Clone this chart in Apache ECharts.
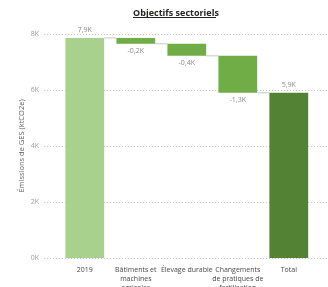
<!DOCTYPE html>
<html>
<head>
<meta charset="utf-8">
<title>Objectifs sectoriels</title>
<script src="https://cdn.jsdelivr.net/npm/echarts@6/dist/echarts.min.js"></script>
<style>
    html, body { margin: 0; padding: 0; background: #ffffff; }
    #chart { width: 328px; height: 287px; }
</style>
</head>
<body>
<div id="chart"></div>
<script>
// categories (tick labels) and values in K tCO2e
const categories = ['2019', 'Bâtiments et\nmachines\nagricoles', 'Élevage durable', 'Changements\nde pratiques de\nfertilisation', 'Total'];
const values = [7.86, -0.21, -0.43, -1.32, 5.90];
const barColors = ['#a9d18e', '#70ad47', '#70ad47', '#70ad47', '#548235'];

// build waterfall (base + visible part) from values
let running = 0;
const bases = [], heights = [], levels = [];
values.forEach((v, i) => {
    if (i === 0 || i === values.length - 1) {
        bases.push(0);
        heights.push(v);
        running = v;
    } else {
        const next = running + v;
        bases.push(Math.min(running, next));
        heights.push(Math.abs(v));
        running = next;
    }
    levels.push(running);
});

const fmt = v => v.toFixed(1).replace('.', ',') + 'K';
const font = '"Open Sans", "Noto Sans", sans-serif';
const barRatio = 0.76;

const chart = echarts.init(document.getElementById('chart'));
chart.setOption({
    animation: false,
    title: {
        text: 'Objectifs sectoriels',
        left: 171, top: 4, textAlign: 'center',
        textStyle: { fontFamily: font, fontWeight: 'bold', fontSize: 9, color: '#252423' }
    },
    graphic: [{
        type: 'line', shape: { x1: 133, y1: 17.5, x2: 216, y2: 17.5 },
        style: { stroke: '#252423', lineWidth: 1 }
    }],
    grid: [
        { left: 44, right: 1, top: 34, bottom: 29, outerBoundsMode: 'none' },
        { left: 59.3, right: 13.7, top: 34, bottom: 29, outerBoundsMode: 'none' }
    ],
    xAxis: [
        { type: 'value', gridIndex: 0, show: false, min: 0, max: 1 },
        {
            type: 'category', gridIndex: 1, data: categories,
            axisLine: { show: false }, axisTick: { show: false },
            axisLabel: { fontFamily: font, fontSize: 7, color: '#4a4a4a', lineHeight: 9, margin: 7, interval: 0 }
        }
    ],
    yAxis: [
        {
            type: 'value', gridIndex: 0, min: 0, max: 8, interval: 2,
            name: 'Émissions de GES (ktCO2e)', nameLocation: 'middle', nameGap: 18,
            nameMoveOverlap: false,
            nameTextStyle: { fontFamily: font, fontSize: 7.5, color: '#605e5c' },
            axisLine: { show: false }, axisTick: { show: false },
            axisLabel: { fontFamily: font, fontSize: 7, color: '#a0a0a0', margin: 5, formatter: v => v + 'K' },
            splitLine: { lineStyle: { type: [1, 2], color: '#c8c8c8', width: 1 } }
        },
        { type: 'value', gridIndex: 1, min: 0, max: 8, interval: 2, show: false, splitLine: { show: false } }
    ],
    series: [
        {
            type: 'bar', xAxisIndex: 1, yAxisIndex: 1, stack: 'w',
            barWidth: (barRatio * 100) + '%',
            itemStyle: { color: 'transparent' },
            data: bases, silent: true
        },
        {
            type: 'bar', xAxisIndex: 1, yAxisIndex: 1, stack: 'w',
            data: heights.map((h, i) => ({
                value: h,
                itemStyle: { color: barColors[i] },
                label: { position: values[i] < 0 ? 'bottom' : 'top' }
            })),
            label: {
                show: true, fontFamily: font, fontSize: 7, color: '#8a8886', distance: 4,
                formatter: p => fmt(values[p.dataIndex])
            }
        },
        {
            type: 'custom', xAxisIndex: 1, yAxisIndex: 1,
            data: levels.slice(0, values.length - 1).map((l, i) => [i, l]),
            z: 1,
            renderItem: (params, api) => {
                const i = api.value(0), l = api.value(1);
                const p0 = api.coord([i, l]);
                const p1 = api.coord([i + 1, l]);
                const hw = api.size([1, 0])[0] * barRatio / 2;
                return {
                    type: 'line',
                    shape: { x1: p0[0] + hw, y1: p0[1], x2: p1[0] - hw, y2: p1[1] },
                    style: { stroke: '#c8c8c8', lineWidth: 1 }
                };
            }
        }
    ]
});
</script>
</body>
</html>
